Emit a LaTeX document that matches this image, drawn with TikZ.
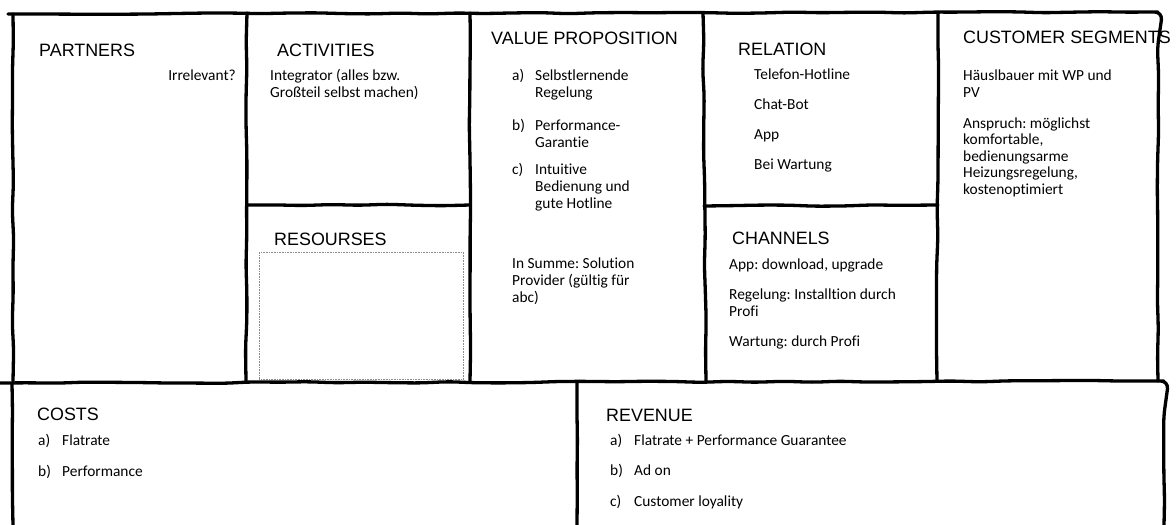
\documentclass[tikz,border=0pt]{standalone}
\usepackage{fontspec}
\setmainfont{Carlito}[Ligatures=NoCommon]
\newfontfamily\headfont{Liberation Sans}
\usepackage{tikz}
\usetikzlibrary{decorations.pathmorphing}
\frenchspacing
\tikzset{
  sketchline/.style={
    draw=black, line width=3.3pt, line cap=round, line join=round,
    decorate, decoration={random steps, segment length=28pt, amplitude=0.8pt},
    rounded corners=8pt
  },
  headtext/.style={anchor=base west, inner sep=0pt, font=\headfont\fontsize{17.9}{21}\selectfont},
  bodytext/.style={anchor=base west, inner sep=0pt, align=left, font=\fontsize{15.4}{17.3}\selectfont},
  placeholder/.style={draw=black!45, densely dotted, line width=0.6pt, inner sep=0pt}
}

\begin{document}
\begin{tikzpicture}[x=1pt, y=-1pt]
  \pgfmathsetseed{11}
  \fill[white] (0,0) rectangle (1176,525);
  \useasboundingbox (0,0) rectangle (1176,525);

  % Partners
  \node[headtext] (partners_head) at (39,56) {PARTNERS};
  \node[bodytext, anchor=base east] (partners_note) at (236,80) {Irrelevant?};

  % Activities (multi-line nodes sit on the baseline of their last line)
  \node[headtext] (activities_head) at (277,56) {ACTIVITIES};
  \node[bodytext] (activities_text) at (270,97.3) {Integrator (alles bzw.\\Großteil selbst machen)};

  % Resources
  \node[headtext] (resources_head) at (274,245) {RESOURSES};
  \node[placeholder, anchor=north west, minimum width=204pt, minimum height=127pt] (resources_box) at (259,252) {};

  % Value proposition
  \node[headtext] (value_head) at (491,44) {VALUE PROPOSITION};
  \node[bodytext] (value_a_lbl) at (512,80) {a)};
  \node[bodytext] (value_a) at (535,97.3) {Selbstlernende\\Regelung};
  \node[bodytext] (value_b_lbl) at (512,130) {b)};
  \node[bodytext] (value_b) at (535,147.3) {Performance-\\Garantie};
  \node[bodytext] (value_c_lbl) at (512,174) {c)};
  \node[bodytext] (value_c) at (535,208.6) {Intuitive\\Bedienung und\\gute Hotline};
  \node[bodytext] (value_sum) at (512,302.6) {In Summe: Solution\\Provider (gültig für\\abc)};

  % Relation
  \node[headtext] (relation_head) at (738,55) {RELATION};
  \node[bodytext] (relation_phone) at (754,79) {Telefon-Hotline};
  \node[bodytext] (relation_bot) at (754,109) {Chat-Bot};
  \node[bodytext] (relation_app) at (754,139) {App};
  \node[bodytext] (relation_service) at (754,169) {Bei Wartung};

  % Channels
  \node[headtext] (channels_head) at (732,244) {CHANNELS};
  \node[bodytext] (channels_app) at (729,269) {App: download, upgrade};
  \node[bodytext] (channels_ctrl) at (729,316.3) {Regelung: Installtion durch\\Profi};
  \node[bodytext] (channels_service) at (729,346) {Wartung: durch Profi};

  % Customer segments
  \node[headtext] (customer_head) at (963,43) {CUSTOMER SEGMENTS};
  \node[bodytext] (customer_who) at (963,97.3) {Häuslbauer mit WP und\\PV};
  \node[bodytext, font=\fontsize{15.4}{16.5}\selectfont] (customer_need) at (963,194) {Anspruch: möglichst\\komfortable,\\bedienungsarme\\Heizungsregelung,\\kostenoptimiert};

  % Costs
  \node[headtext] (costs_head) at (37,420) {COSTS};
  \node[bodytext] (costs_a_lbl) at (38,445) {a)};
  \node[bodytext] (costs_a) at (62,445) {Flatrate};
  \node[bodytext] (costs_b_lbl) at (38,476) {b)};
  \node[bodytext] (costs_b) at (62,476) {Performance};

  % Revenue
  \node[headtext] (revenue_head) at (606,421) {REVENUE};
  \node[bodytext] (revenue_a_lbl) at (610,445) {a)};
  \node[bodytext] (revenue_a) at (634,445) {Flatrate + Performance Guarantee};
  \node[bodytext] (revenue_b_lbl) at (610,475) {b)};
  \node[bodytext] (revenue_b) at (634,475) {Ad on};
  \node[bodytext] (revenue_c_lbl) at (610,506) {c)};
  \node[bodytext] (revenue_c) at (634,506) {Customer loyality};

  % Hand-drawn frame, upper row
  \draw[sketchline] (8,14) -- (1158,12) -- (1158,381);
  \draw[sketchline] (13,14) -- (13,381);
  \draw[sketchline] (247,13) -- (246,381);
  \draw[sketchline] (470,13) -- (470,381);
  \draw[sketchline] (703,13) -- (706,381);
  \draw[sketchline] (938,13) -- (937,381);
  \draw[sketchline] (247,205) -- (470,205);
  \draw[sketchline] (704,206) -- (938,205);

  % Hand-drawn frame, lower row
  \draw[sketchline] (0,383) -- (1164,381) -- (1164,525);
  \draw[sketchline] (12,383) -- (13,525);
  \draw[sketchline] (577,383) -- (577,525);
\end{tikzpicture}
\end{document}
